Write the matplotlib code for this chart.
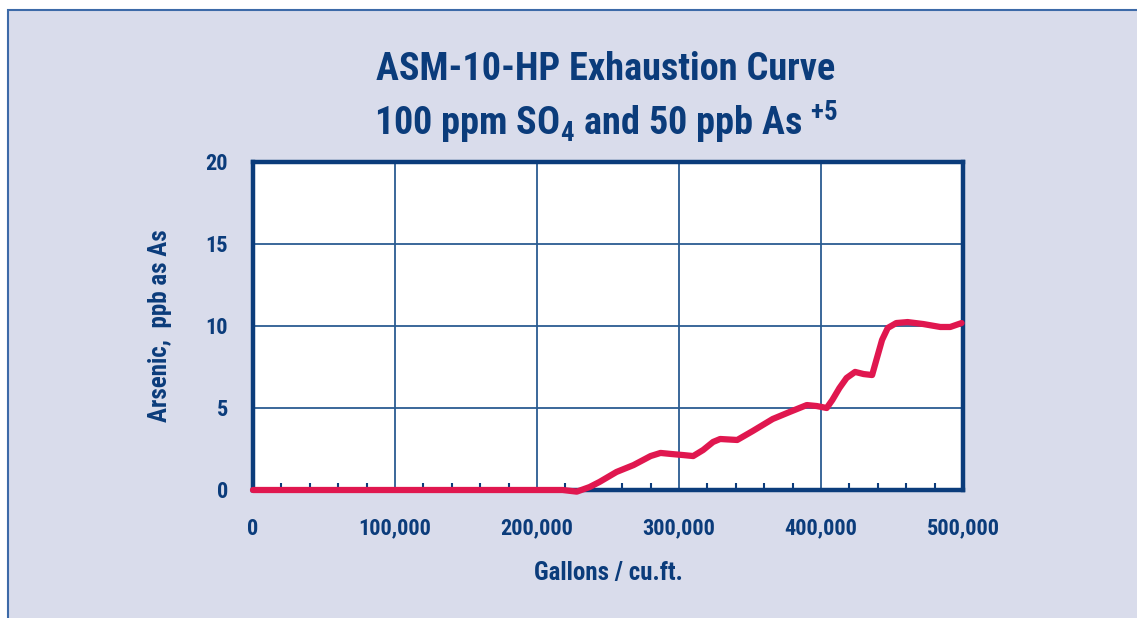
import matplotlib
matplotlib.use("Agg")
import matplotlib.pyplot as plt
from matplotlib import font_manager
from matplotlib.patches import Rectangle
from matplotlib.ticker import MultipleLocator, FuncFormatter

# curve
gallons = [0, 50000, 100000, 150000, 200000, 218000, 228000, 237000, 244000,
           256000, 268000, 280000, 287000, 294000, 303000, 310000, 317000,
           324000, 329000, 341000, 352000, 366000, 378000, 390000, 397000,
           404000, 408000, 413000, 418000, 424000, 430000, 436000, 439000,
           443000, 447000, 453000, 461000, 472000, 484000, 491000, 499000]
arsenic = [0, 0, 0, 0, 0, 0, -0.1, 0.18, 0.49,
           1.1, 1.52, 2.07, 2.26, 2.2, 2.13, 2.07, 2.44,
           2.93, 3.11, 3.05, 3.6, 4.33, 4.76, 5.18, 5.12,
           5.0, 5.49, 6.22, 6.83, 7.2, 7.07, 7.01, 7.93,
           9.15, 9.88, 10.18, 10.24, 10.12, 9.94, 9.94, 10.18]

x_ticks = [0, 100000, 200000, 300000, 400000, 500000]
y_ticks = [0, 5, 10, 15, 20]

navy = "#0b3c7b"
grid_col = "#2b5c92"
bg = "#d9dceb"
red = "#e0174f"

# look for a narrow bold face
names = {f.name for f in font_manager.fontManager.ttflist}
fam = "DejaVu Sans"
for cand in ["Liberation Sans Narrow", "DejaVu Sans Condensed",
             "Roboto Condensed", "Open Sans Condensed"]:
    if cand in names:
        fam = cand
        break

plt.rcParams["font.family"] = [fam, "DejaVu Sans"]
plt.rcParams["font.weight"] = "bold"
plt.rcParams["font.stretch"] = "condensed"
plt.rcParams["mathtext.fontset"] = "custom"
plt.rcParams["mathtext.rm"] = f"{fam}:bold"
plt.rcParams["mathtext.it"] = f"{fam}:bold"
plt.rcParams["mathtext.bf"] = f"{fam}:bold"

W, H = 1137, 618
fig = plt.figure(figsize=(W / 100, H / 100), dpi=100, facecolor="white")

# lavender panel with blue border at top and left
fig.patches.append(Rectangle((8 / W, -0.05), 1.2, (H - 10) / H + 0.05,
                             transform=fig.transFigure, facecolor=bg,
                             edgecolor="#3d6aa8", linewidth=1.5, zorder=-10))

ax = fig.add_axes([253 / W, (H - 490) / H, (963 - 253) / W, (490 - 162) / H])
ax.set_facecolor("white")

ax.plot(gallons, arsenic, color=red, linewidth=4.5,
        solid_joinstyle="round", solid_capstyle="round", zorder=5, clip_on=False)

ax.set_xlim(0, 500000)
ax.set_ylim(0, 20)
ax.set_xticks(x_ticks)
ax.set_yticks(y_ticks)
ax.xaxis.set_minor_locator(MultipleLocator(20000))
ax.xaxis.set_major_formatter(FuncFormatter(lambda v, p: f"{int(v):,}"))

ax.grid(True, which="major", color=grid_col, linewidth=1.3)
ax.set_axisbelow(True)

for s in ax.spines.values():
    s.set_color(navy)
    s.set_linewidth(3.2)

ax.tick_params(axis="x", which="major", length=0, pad=20, labelsize=16,
               labelcolor=navy)
ax.tick_params(axis="x", which="minor", direction="in", length=5, width=1.5,
               color=navy)
ax.tick_params(axis="y", which="major", length=0, pad=18, labelsize=16,
               labelcolor=navy)

ax.set_xlabel("Gallons / cu.ft.", fontsize=18, color=navy, labelpad=15,
              fontweight="bold")
ax.set_ylabel("Arsenic,  ppb as As", fontsize=18, color=navy, labelpad=24,
              fontweight="bold")

tx = 606 / W
fig.text(tx, 1 - 70 / H, "ASM-10-HP Exhaustion Curve", ha="center",
         va="center", fontsize=27.5, color=navy, fontweight="bold")
fig.text(tx, 1 - 122 / H, r"100 ppm SO$_4$ and 50 ppb As $^{+5}$",
         ha="center", va="center", fontsize=27.5, color=navy, fontweight="bold")

fig.savefig("out.png", dpi=100, facecolor=fig.get_facecolor())
print("Saved: out.png")
